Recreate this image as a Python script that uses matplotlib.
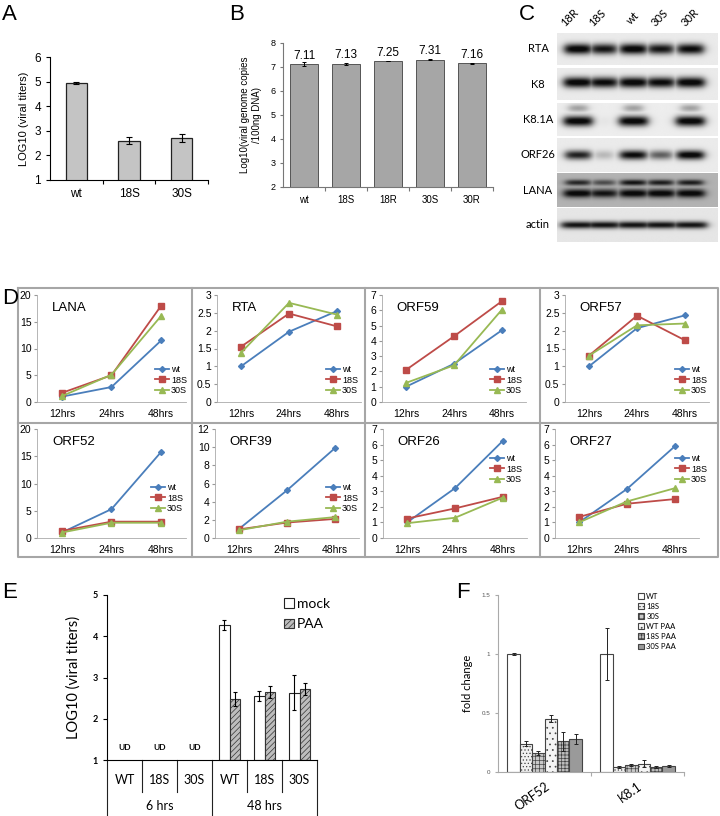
import numpy as np
import matplotlib.pyplot as plt
from matplotlib.patches import Patch

plt.rcParams['font.family'] = ['Liberation Sans', 'DejaVu Sans']
plt.rcParams['hatch.linewidth'] = 0.5
W, H = 720, 816
CAL = ['Lato', 'DejaVu Sans']

# A: viral titers
a_names = ['wt', '18S', '30S']
a_vals = [4.95, 2.6, 2.7]
a_err = [0.05, 0.15, 0.15]

# B: genome copies
b_names = ['wt', '18S', '18R', '30S', '30R']
b_vals = [7.11, 7.13, 7.25, 7.31, 7.16]
b_err = [0.08, 0.03, 0.02, 0.03, 0.02]

# C: western blot, band strength 0-1 per lane
c_lanes = ['18R', '18S', 'wt', '30S', '30R']
c_rows = ['RTA', 'K8', 'K8.1A', 'ORF26', 'LANA', 'actin']
c_rta = [0.95, 0.85, 0.95, 0.85, 0.9]
c_k8 = [0.95, 0.9, 0.95, 0.9, 0.95]
c_k81a = [0.95, 0.03, 0.95, 0.0, 0.95]
c_k81a_top = [0.3, 0.0, 0.3, 0.0, 0.3]
c_orf26 = [0.8, 0.2, 0.9, 0.55, 0.95]
c_lana_top = [0.75, 0.55, 0.85, 0.8, 0.8]
c_lana = [0.95, 0.85, 0.95, 0.95, 0.95]
c_actin = [0.85, 0.85, 0.85, 0.85, 0.85]

# D: relative expression over time
d_times = ['12hrs', '24hrs', '48hrs']
d_genes = ['LANA', 'RTA', 'ORF59', 'ORF57', 'ORF52', 'ORF39', 'ORF26', 'ORF27']
d_wt = [[1.0, 2.8, 11.5], [1.0, 1.97, 2.55], [1.0, 2.5, 4.7], [1.0, 2.07, 2.43],
        [1.0, 5.3, 15.8], [1.0, 5.25, 9.9], [1.0, 3.2, 6.25], [1.0, 3.15, 5.9]]
d_18s = [[1.7, 5.0, 18.0], [1.55, 2.48, 2.12], [2.1, 4.3, 6.6], [1.3, 2.42, 1.73],
         [1.3, 3.0, 3.0], [0.95, 1.7, 2.1], [1.25, 1.9, 2.65], [1.35, 2.2, 2.5]]
d_30s = [[1.1, 5.1, 16.1], [1.38, 2.78, 2.45], [1.25, 2.4, 6.05], [1.3, 2.15, 2.2],
         [1.0, 2.8, 2.8], [0.85, 1.8, 2.3], [0.95, 1.3, 2.6], [1.0, 2.35, 3.2]]
d_ymax = [20, 3, 7, 3, 20, 12, 7, 7]
d_ystep = [5, 0.5, 1, 0.5, 5, 2, 1, 1]

# E: titers with/without PAA
e_cats = ['WT', '18S', '30S', 'WT', '18S', '30S']
e_groups = ['6 hrs', '48 hrs']
e_mock = [np.nan, np.nan, np.nan, 4.27, 2.55, 2.63]
e_mock_err = [0, 0, 0, 0.13, 0.13, 0.42]
e_paa = [np.nan, np.nan, np.nan, 2.47, 2.65, 2.72]
e_paa_err = [0, 0, 0, 0.17, 0.15, 0.14]

# F: fold change
f_genes = ['ORF52', 'K8.1']
f_series = ['WT', '18S', '30S', 'WT PAA', '18S PAA', '30S PAA']
f_orf52 = [1.0, 0.24, 0.16, 0.45, 0.26, 0.28]
f_orf52_err = [0.01, 0.02, 0.02, 0.03, 0.08, 0.04]
f_k81 = [1.0, 0.04, 0.06, 0.07, 0.04, 0.05]
f_k81_err = [0.22, 0.01, 0.01, 0.03, 0.01, 0.01]

fig = plt.figure(figsize=(7.2, 8.16), dpi=100)


def add_px(x0, y0, x1, y1):
    return fig.add_axes([x0 / W, 1 - y1 / H, (x1 - x0) / W, (y1 - y0) / H])


# ---------- A
ax = add_px(50, 57, 208, 180)
x = np.arange(len(a_names))
ax.bar(x, a_vals, width=0.4, color='#c4c4c4', edgecolor='#222222', lw=0.9,
       yerr=a_err, capsize=2, error_kw=dict(elinewidth=0.8, capthick=0.8))
ax.set_xlim(-0.5, 2.5)
ax.set_ylim(1, 6)
ax.spines[['top', 'right']].set_visible(False)
ax.set_xticks([0.5, 1.5, 2.5], ['', '', ''])
ax.set_xticks(x, a_names, minor=True)
ax.tick_params(axis='x', which='minor', length=0, labelsize=8.5, pad=6)
ax.tick_params(axis='x', which='major', length=3)
ax.tick_params(axis='y', labelsize=8.5, length=3)
ax.set_ylabel('LOG10 (viral titers)', fontsize=8, labelpad=4)

# ---------- B
ax = add_px(283, 43, 493, 187)
x = np.arange(len(b_names))
ax.bar(x, b_vals, width=0.67, color='#a6a6a6', edgecolor='#555555', lw=0.7,
       yerr=b_err, capsize=1.5, error_kw=dict(elinewidth=0.7, capthick=0.7))
for xi, v in zip(x, b_vals):
    ax.text(xi, v + 0.1, f'{v:.2f}', ha='center', va='bottom', fontsize=8.5)
ax.set_xlim(-0.5, 4.5)
ax.set_ylim(2, 8)
ax.spines[['top', 'right']].set_visible(False)
ax.spines[['left', 'bottom']].set_color('#777777')
ax.set_xticks(np.arange(0.5, 5, 1), [''] * 5)
ax.set_xticks(x, b_names, minor=True)
ax.tick_params(axis='x', which='minor', length=0, labelsize=7, pad=6)
ax.tick_params(axis='x', which='major', length=3, color='#777777')
ax.tick_params(axis='y', labelsize=6.5, length=2, color='#777777')
ax.set_ylabel('Log10(viral genome copies\n/100ng DNA)', fontsize=7, labelpad=6)

# ---------- C: blot strips
lane_x = [0.13, 0.29, 0.475, 0.645, 0.83]
row_y = [(33, 65), (68, 100), (103, 136), (138, 172), (173, 207), (208, 242)]
blot_bands = [
    [(c_rta, 0.5, 0.17, 0.085)],
    [(c_k8, 0.45, 0.17, 0.09)],
    [(c_k81a, 0.55, 0.16, 0.09), (c_k81a_top, 0.15, 0.12, 0.08)],
    [(c_orf26, 0.5, 0.14, 0.085)],
    [(c_lana_top, 0.28, 0.09, 0.085), (c_lana, 0.6, 0.13, 0.09)],
    [(c_actin, 0.5, 0.11, 0.11)],
]
blot_bg = [0.92, 0.92, 0.93, 0.92, 0.7, 0.9]
yy, xx = np.mgrid[0:1:60j, 0:1:240j]
for r, (name, (y0, y1)) in enumerate(zip(c_rows, row_y)):
    ax = add_px(557, y0, 718, y1)
    dark = np.zeros_like(xx)
    for vals, yc, sy, hw in blot_bands[r]:
        for xc, v in zip(lane_x, vals):
            px = 1 / (1 + np.exp((np.abs(xx - xc) - hw * (0.6 + 0.4 * v)) / 0.015))
            py = np.exp(-((yy - yc) / sy) ** 2)
            dark = np.maximum(dark, np.clip(1.15 * v * px * py, 0, 1))
    img = blot_bg[r] - (blot_bg[r] - 0.04) * dark
    ax.imshow(img, cmap='gray', vmin=0, vmax=1, aspect='auto',
              extent=[0, 1, 1, 0], interpolation='bilinear')
    ax.set_axis_off()
    fig.text(538 / W, 1 - ((y0 + y1) / 2) / H, name, ha='center', va='center',
             fontsize=8, family=CAL)
lane_lbl_x = [570, 597, 633, 660, 690]
for lx, lab in zip(lane_lbl_x, c_lanes):
    fig.text(lx / W, 1 - 18 / H, lab, rotation=45, ha='center', va='center',
             fontsize=8, family=CAL)

# ---------- D: line charts
d_left = [37, 217, 382, 565, 37, 215, 383, 555]
d_right = [186, 361, 526, 709, 186, 359, 527, 699]
d_rows = [(295, 402), (429, 538)]
leg_right = [187, 358, 522, 707, 183, 358, 522, 707]
leg_y = [380, 380, 380, 380, 498, 498, 469, 469]
styles = [('wt', '#4a7ebb', 'D', 3), ('18S', '#be4b48', 's', 4), ('30S', '#98b954', '^', 4)]
for i, gene in enumerate(d_genes):
    top, bot = d_rows[i // 4]
    ax = add_px(d_left[i], top, d_right[i], bot)
    ax.set_facecolor('none')
    t = np.arange(len(d_times))
    for series, (lab, col, mk, ms) in zip([d_wt[i], d_18s[i], d_30s[i]], styles):
        ax.plot(t, series, color=col, marker=mk, ms=ms, lw=1.3, label=lab)
    ax.set_xlim(-0.5, 2.5)
    ax.set_ylim(0, d_ymax[i])
    yt = np.arange(0, d_ymax[i] + 1e-9, d_ystep[i])
    ax.set_yticks(yt, [f'{v:g}' for v in yt])
    ax.set_xticks(t, d_times)
    ax.tick_params(labelsize=7.5, length=2, color='#999999', pad=2)
    ax.tick_params(axis='x', length=0, pad=5)
    ax.spines[['top', 'right']].set_visible(False)
    ax.spines[['left', 'bottom']].set_color('#aaaaaa')
    ax.spines[['left', 'bottom']].set_linewidth(0.6)
    ax.text(0.1, 0.88, gene, transform=ax.transAxes, fontsize=9.5, va='center')
    ax.legend(loc='center right', bbox_to_anchor=(leg_right[i] / W, 1 - leg_y[i] / H),
              bbox_transform=fig.transFigure, frameon=False, fontsize=6.5,
              handlelength=1.6, handletextpad=0.2, labelspacing=0.15,
              borderpad=0, borderaxespad=0)

# ---------- E
ax = add_px(107, 595, 317, 760)
ax.set_facecolor('none')
x = np.arange(len(e_cats)) + 0.5
bw = 0.31
mock = np.array(e_mock)
paa = np.array(e_paa)
ok = ~np.isnan(mock)
ax.bar(x[ok] - bw / 2, mock[ok] - 1, bottom=1, width=bw, color='white',
       edgecolor='#222222', lw=0.8, yerr=np.array(e_mock_err)[ok], capsize=1.5,
       error_kw=dict(elinewidth=0.8, capthick=0.8), label='mock')
ax.bar(x[ok] + bw / 2, paa[ok] - 1, bottom=1, width=bw, color='#bdbdbd',
       edgecolor='#333333', hatch='//////', lw=0.8, yerr=np.array(e_paa_err)[ok],
       capsize=1.5, error_kw=dict(elinewidth=0.8, capthick=0.8), label='PAA')
for xi in x[~ok]:
    ax.text(xi, 1.3, 'UD', ha='center', va='center', fontsize=6, fontweight='bold',
            family=CAL)
ax.set_xlim(0, 6)
ax.set_ylim(1, 5)
ax.spines[['top', 'right']].set_visible(False)
ax.set_xticks([])
ax.set_yticks(range(1, 6), [str(v) for v in range(1, 6)], fontweight='bold',
              fontsize=6.5, family=CAL)
ax.tick_params(axis='y', length=3)
ax.set_ylabel('LOG10 (viral titers)', fontsize=10.5, family=CAL, labelpad=9)
trans = ax.get_xaxis_transform()
for b in range(7):
    low = -0.34 if b % 3 == 0 else -0.195
    ax.plot([b, b], [0, low], transform=trans, color='#222222', lw=0.8, clip_on=False)
for xi, lab in zip(x, e_cats):
    ax.text(xi, -0.12, lab, transform=trans, ha='center', va='center', fontsize=9,
            family=CAL)
for g, lab in enumerate(e_groups):
    ax.text(1.5 + 3 * g, -0.28, lab, transform=trans, ha='center', va='center',
            fontsize=9, family=CAL)
ax.legend(loc='upper left', bbox_to_anchor=(277 / W, 1 - 591 / H),
          bbox_transform=fig.transFigure, frameon=False,
          prop=dict(family=CAL, size=10), handlelength=0.7, handleheight=0.7,
          handletextpad=0.25, labelspacing=0.6, borderpad=0)

# ---------- F
ax = add_px(498, 595, 684, 772)
ax.set_facecolor('none')
f_face = ['white', '#f0f0f0', '#c8c8c8', '#f4f4f4', '#bcbcbc', '#9a9a9a']
f_hatch = [None, '.....', '++++', '...', '+++++', None]
fw = 0.8 / len(f_series)
xg = np.arange(len(f_genes)) + 0.5
for j, lab in enumerate(f_series):
    off = (j - (len(f_series) - 1) / 2) * fw
    ax.bar(xg + off, [f_orf52[j], f_k81[j]], width=fw, color=f_face[j],
           hatch=f_hatch[j], edgecolor='#444444', lw=0.8,
           yerr=[f_orf52_err[j], f_k81_err[j]], capsize=1.2,
           error_kw=dict(elinewidth=0.7, capthick=0.7, ecolor='#222222'), label=lab)
ax.set_xlim(0, 2)
ax.set_ylim(0, 1.5)
ax.spines[['top', 'right']].set_visible(False)
ax.spines[['left', 'bottom']].set_color('#aaaaaa')
ax.set_yticks([0, 0.5, 1, 1.5], ['0', '0.5', '1', '1.5'])
ax.tick_params(axis='y', labelsize=4.5, labelcolor='#555555', length=2, color='#aaaaaa')
ax.set_xticks([1, 2], ['', ''])
ax.tick_params(axis='x', which='major', length=3, color='#aaaaaa')
ax.set_xticks(xg, f_genes, minor=True)
ax.tick_params(axis='x', which='minor', length=0, labelsize=9, pad=6)
for lbl in ax.get_xticklabels(minor=True):
    lbl.set_rotation(35)
    lbl.set_ha('right')
    lbl.set_rotation_mode('anchor')
    lbl.set_family(CAL)
ax.set_ylabel('fold change', fontsize=8, family=CAL, labelpad=6)
ax.legend(loc='upper left', bbox_to_anchor=(634 / W, 1 - 589 / H),
          bbox_transform=fig.transFigure, frameon=False,
          prop=dict(family=CAL, size=5.5), handlelength=0.8, handleheight=0.8,
          handletextpad=0.3, labelspacing=0.4, borderpad=0)

# ---------- overlay: panel letters and D frame
ov = fig.add_axes([0, 0, 1, 1])
ov.set_xlim(0, W)
ov.set_ylim(H, 0)
ov.set_axis_off()
ov.patch.set_alpha(0)
for lx, ly, lab in [(2, 15, 'A'), (229, 15, 'B'), (519, 15, 'C'), (2, 298, 'D'),
                    (2, 592, 'E'), (456, 592, 'F')]:
    ov.text(lx, ly, lab, fontsize=16, va='center', ha='left')
fc = '#a6a6a6'
ov.plot([18, 718, 718, 18, 18], [288, 288, 557, 557, 288], color=fc, lw=1.5)
ov.plot([18, 718], [423, 423], color=fc, lw=1.5)
for vx in [192, 365, 540]:
    ov.plot([vx, vx], [288, 557], color=fc, lw=1.5)

fig.savefig('out.png', dpi=100)
